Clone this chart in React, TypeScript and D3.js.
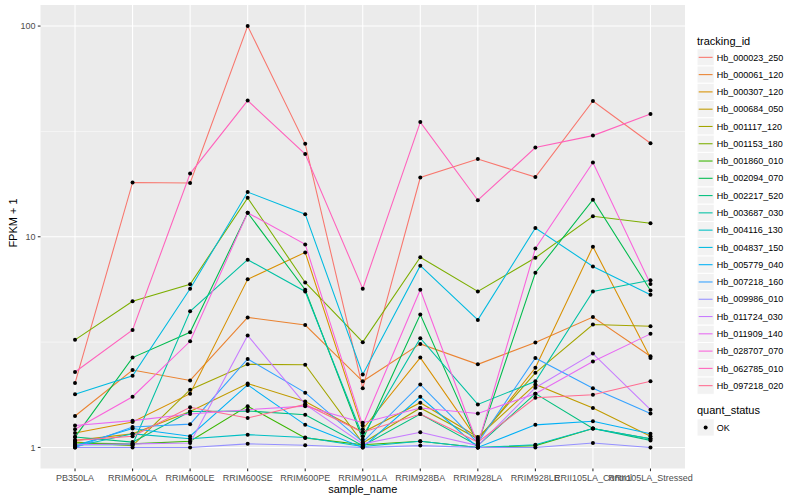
import * as React from 'react';
import * as d3 from 'd3';

const samples = ['PB350LA', 'RRIM600LA', 'RRIM600LE', 'RRIM600SE', 'RRIM600PE', 'RRIM901LA',
    'RRIM928BA', 'RRIM928LA', 'RRIM928LE', 'RRII105LA_Control', 'RRII105LA_Stressed'];

const trackingIds = ['Hb_000023_250', 'Hb_000061_120', 'Hb_000307_120', 'Hb_000684_050', 'Hb_001117_120',
    'Hb_001153_180', 'Hb_001860_010', 'Hb_002094_070', 'Hb_002217_520', 'Hb_003687_030',
    'Hb_004116_130', 'Hb_004837_150', 'Hb_005779_040', 'Hb_007218_160', 'Hb_009986_010',
    'Hb_011724_030', 'Hb_011909_140', 'Hb_028707_070', 'Hb_062785_010', 'Hb_097218_020'];

// ggplot default hue palette, 20 levels
const colors = ['#F8766D', '#EA8331', '#D89000', '#C09B00', '#A3A500', '#7CAE00', '#39B600', '#00BB4E',
    '#00BF7D', '#00C1A3', '#00BFC4', '#00BAE0', '#00B0F6', '#35A2FF', '#9590FF', '#C77CFF',
    '#E76BF3', '#FA62DB', '#FF62BC', '#FF6C91'];

const yTicks = [1, 10, 100];
const yMinor = [Math.sqrt(10), Math.sqrt(1000)];

// FPKM + 1, one array per tracking_id, in sample order
const hb000023_250 = [2.02, 18.1, 18.0, 100, 27.6, 1.91, 19.1, 23.4, 19.2, 44.1, 27.8];
const hb000061_120 = [1.41, 2.33, 2.08, 4.14, 3.81, 2.06, 3.1, 2.48, 3.15, 4.16, 2.71];
const hb000307_120 = [1.17, 1.32, 1.80, 6.28, 8.43, 1.22, 2.67, 1.08, 2.39, 8.97, 2.66];
const hb000684_050 = [1.08, 1.16, 1.48, 2.01, 1.65, 1.18, 1.63, 1.12, 1.99, 1.54, 1.13];
const hb001117_120 = [1.06, 1.02, 1.88, 2.48, 2.47, 1.05, 1.54, 1.1, 2.26, 3.83, 3.76];
const hb001153_180 = [3.24, 4.94, 5.95, 15.3, 6.07, 3.16, 8.0, 5.5, 7.95, 12.5, 11.6];
const hb001860_010 = [1.05, 1.04, 1.07, 1.57, 1.11, 1.03, 1.07, 1.0, 1.02, 1.23, 1.10];
const hb002094_070 = [1.12, 2.67, 3.52, 13.0, 5.6, 1.09, 4.27, 1.04, 6.75, 15.0, 5.56];
const hb002217_520 = [1.12, 1.06, 1.48, 1.49, 1.43, 1.02, 1.44, 1.02, 1.8, 1.23, 1.08];
const hb003687_030 = [1.03, 1.03, 4.43, 7.78, 5.5, 1.13, 3.3, 1.6, 2.06, 5.5, 6.21];
const hb004116_130 = [1.01, 1.16, 1.1, 1.15, 1.115, 1.01, 1.07, 1.0, 1.03, 1.23, 1.1];
const hb004837_150 = [1.79, 2.19, 5.66, 16.3, 12.8, 2.22, 7.29, 4.03, 11.0, 7.23, 5.3];
const hb005779_040 = [1.02, 1.23, 1.13, 1.98, 1.28, 1.0, 1.74, 1.0, 1.28, 1.33, 1.16];
const hb007218_160 = [1.0, 1.25, 1.29, 2.63, 1.82, 1.06, 1.99, 1.05, 2.66, 1.91, 1.45];
const hb009986_010 = [1.0, 1.0, 1.0, 1.04, 1.025, 1.0, 1.02, 1.0, 1.0, 1.05, 1.0];
const hb011724_030 = [1.03, 1.04, 1.05, 3.40, 1.6, 1.04, 1.18, 1.02, 1.92, 2.79, 1.51];
const hb011909_140 = [1.27, 1.34, 1.44, 1.51, 1.57, 1.31, 1.54, 1.45, 1.8, 2.56, 3.46];
const hb028707_070 = [1.22, 1.74, 3.19, 13.0, 9.2, 1.27, 5.6, 1.03, 8.8, 22.5, 5.96];
const hb062785_010 = [2.28, 3.61, 19.95, 44.3, 24.7, 5.67, 35, 14.9, 26.5, 30.2, 38.3];
const hb097218_020 = [1.08, 1.13, 1.55, 1.38, 1.6, 1.18, 1.44, 1.06, 1.72, 1.78, 2.06];

const seriesValues = [hb000023_250, hb000061_120, hb000307_120, hb000684_050, hb001117_120,
    hb001153_180, hb001860_010, hb002094_070, hb002217_520, hb003687_030,
    hb004116_130, hb004837_150, hb005779_040, hb007218_160, hb009986_010,
    hb011724_030, hb011909_140, hb028707_070, hb062785_010, hb097218_020];

const config = {
    width: 800,
    height: 500,
    panel: { left: 40.5, right: 685, top: 5, bottom: 468.5 },
    font: '"Liberation Sans", Arial, Helvetica, sans-serif'
};

export default function App() {
    const ref = React.useRef<HTMLDivElement>(null);

    React.useEffect(() => {
        document.body.style.margin = '0';
        const root = d3.select(ref.current);
        root.select('svg').remove();
        const p = config.panel;

        const xScale = d3.scalePoint<string>()
            .domain(samples)
            .range([p.left, p.right])
            .padding(0.6);

        const logMin = -0.1, logMax = 2.1;
        const yScale = d3.scaleLog()
            .domain([Math.pow(10, logMin), Math.pow(10, logMax)])
            .range([p.bottom, p.top]);

        const svg = root.append('svg')
            .attr('width', config.width)
            .attr('height', config.height)
            .style('display', 'block')
            .style('font-family', config.font);

        svg.append('rect')
            .attr('width', config.width)
            .attr('height', config.height)
            .attr('fill', '#ffffff');

        // panel
        svg.append('rect')
            .attr('x', p.left)
            .attr('y', p.top)
            .attr('width', p.right - p.left)
            .attr('height', p.bottom - p.top)
            .attr('fill', '#EBEBEB');

        const grid = svg.append('g');
        grid.selectAll('.minor')
            .data(yMinor)
            .enter()
            .append('line')
            .attr('x1', p.left)
            .attr('x2', p.right)
            .attr('y1', d => yScale(d))
            .attr('y2', d => yScale(d))
            .attr('stroke', '#ffffff')
            .attr('stroke-width', 0.53);
        grid.selectAll('.major-y')
            .data(yTicks)
            .enter()
            .append('line')
            .attr('x1', p.left)
            .attr('x2', p.right)
            .attr('y1', d => yScale(d))
            .attr('y2', d => yScale(d))
            .attr('stroke', '#ffffff')
            .attr('stroke-width', 1.07);
        grid.selectAll('.major-x')
            .data(samples)
            .enter()
            .append('line')
            .attr('x1', d => xScale(d))
            .attr('x2', d => xScale(d))
            .attr('y1', p.top)
            .attr('y2', p.bottom)
            .attr('stroke', '#ffffff')
            .attr('stroke-width', 1.07);

        // lines
        const line = d3.line<number>()
            .x((d, i) => xScale(samples[i]))
            .y(d => yScale(d));

        svg.append('g')
            .selectAll('path')
            .data(seriesValues)
            .enter()
            .append('path')
            .attr('d', d => line(d))
            .attr('fill', 'none')
            .attr('stroke', (d, i) => colors[i])
            .attr('stroke-width', 1.07);

        // points
        const pts = svg.append('g');
        seriesValues.forEach(vals => {
            pts.selectAll(null)
                .data(vals)
                .enter()
                .append('circle')
                .attr('cx', (d, i) => xScale(samples[i]))
                .attr('cy', d => yScale(d))
                .attr('r', 2)
                .attr('fill', '#000000');
        });

        // axes
        const xAxis = svg.append('g');
        xAxis.selectAll('line')
            .data(samples)
            .enter()
            .append('line')
            .attr('x1', d => xScale(d))
            .attr('x2', d => xScale(d))
            .attr('y1', p.bottom)
            .attr('y2', p.bottom + 2.7)
            .attr('stroke', '#333333')
            .attr('stroke-width', 1.07);
        xAxis.selectAll('text')
            .data(samples)
            .enter()
            .append('text')
            .attr('x', d => xScale(d))
            .attr('y', p.bottom + 12)
            .attr('text-anchor', 'middle')
            .style('font-size', '9px')
            .attr('fill', '#4D4D4D')
            .text(d => d);

        const yAxis = svg.append('g');
        yAxis.selectAll('line')
            .data(yTicks)
            .enter()
            .append('line')
            .attr('x1', p.left - 2.7)
            .attr('x2', p.left)
            .attr('y1', d => yScale(d))
            .attr('y2', d => yScale(d))
            .attr('stroke', '#333333')
            .attr('stroke-width', 1.07);
        yAxis.selectAll('text')
            .data(yTicks)
            .enter()
            .append('text')
            .attr('x', p.left - 5)
            .attr('y', d => yScale(d) + 3.2)
            .attr('text-anchor', 'end')
            .style('font-size', '9px')
            .attr('fill', '#4D4D4D')
            .text(d => String(d));

        svg.append('text')
            .attr('x', (p.left + p.right) / 2)
            .attr('y', 493)
            .attr('text-anchor', 'middle')
            .style('font-size', '11px')
            .attr('fill', '#000000')
            .text('sample_name');

        svg.append('text')
            .attr('transform', 'translate(17,223) rotate(-90)')
            .attr('text-anchor', 'middle')
            .style('font-size', '11px')
            .attr('fill', '#000000')
            .text('FPKM + 1');

        // legend: tracking_id
        const legX = 697;
        const keySize = 17.28;
        const keyTop = 48.7;
        svg.append('text')
            .attr('x', legX)
            .attr('y', 44.5)
            .style('font-size', '11px')
            .attr('fill', '#000000')
            .text('tracking_id');

        const keys = svg.append('g').selectAll('g')
            .data(trackingIds)
            .enter()
            .append('g')
            .attr('transform', (d, i) => 'translate(' + legX + ',' + (keyTop + i * keySize) + ')');
        keys.append('rect')
            .attr('width', keySize)
            .attr('height', keySize)
            .attr('fill', '#F2F2F2')
            .attr('stroke', '#ffffff')
            .attr('stroke-width', 1);
        keys.append('line')
            .attr('x1', 1.7)
            .attr('x2', keySize - 1.7)
            .attr('y1', keySize / 2)
            .attr('y2', keySize / 2)
            .attr('stroke', (d, i) => colors[i])
            .attr('stroke-width', 1.07);
        keys.append('text')
            .attr('x', keySize + 2.5)
            .attr('y', keySize / 2 + 3.2)
            .style('font-size', '9px')
            .attr('fill', '#000000')
            .text(d => d);

        // legend: quant_status
        const qTop = keyTop + trackingIds.length * keySize + 11;
        svg.append('text')
            .attr('x', legX)
            .attr('y', qTop + 9)
            .style('font-size', '11px')
            .attr('fill', '#000000')
            .text('quant_status');
        const qKey = svg.append('g')
            .attr('transform', 'translate(' + legX + ',' + (qTop + 13.5) + ')');
        qKey.append('rect')
            .attr('width', keySize)
            .attr('height', keySize)
            .attr('fill', '#F2F2F2')
            .attr('stroke', '#ffffff');
        qKey.append('circle')
            .attr('cx', keySize / 2)
            .attr('cy', keySize / 2)
            .attr('r', 2)
            .attr('fill', '#000000');
        qKey.append('text')
            .attr('x', keySize + 2.5)
            .attr('y', keySize / 2 + 3.2)
            .style('font-size', '9px')
            .attr('fill', '#000000')
            .text('OK');
    }, []);

    return <div ref={ref} className="fpkm-chart"></div>;
}
